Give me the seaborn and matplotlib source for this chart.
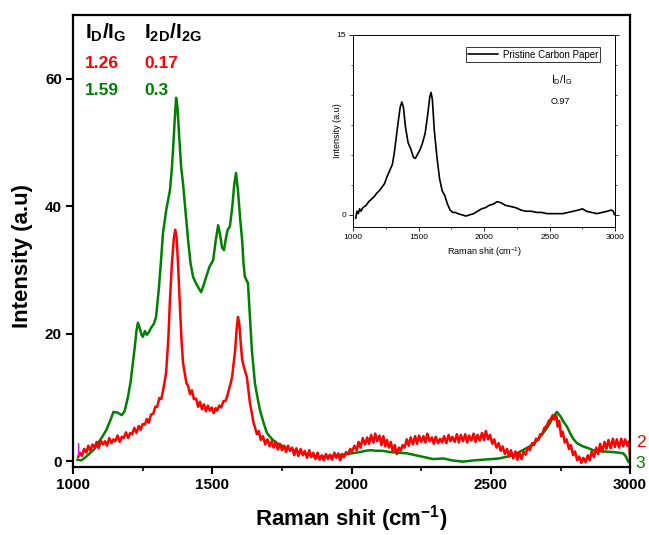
import matplotlib
matplotlib.use("Agg")
import matplotlib.pyplot as plt
import seaborn as sns
import pandas as pd
from matplotlib.ticker import MultipleLocator

# ---------------- data ----------------
green_x = [1015, 1030, 1045, 1060, 1075, 1090, 1105, 1120, 1135, 1145, 1160, 1175, 1185, 1197, 1207, 1215,
           1222, 1228, 1233, 1240, 1246, 1251, 1258, 1265, 1272, 1280, 1290, 1298, 1308, 1316, 1323, 1335,
           1348, 1355, 1360, 1365, 1370, 1375, 1381, 1388, 1395, 1403, 1413, 1422, 1431, 1440, 1450, 1460,
           1468, 1478, 1490, 1503, 1512, 1521, 1528, 1535, 1542, 1549, 1555, 1563, 1572, 1579, 1585, 1592,
           1600, 1607, 1612, 1617, 1628, 1635, 1642, 1653, 1662, 1671, 1684, 1696, 1715, 1732, 1760, 1790,
           1815, 1845, 1876, 1910, 1940, 1970, 2000, 2031, 2050, 2066, 2090, 2110, 2138, 2170, 2199, 2230,
           2260, 2293, 2330, 2360, 2400, 2440, 2470, 2497, 2530, 2560, 2580, 2610, 2640, 2660, 2677, 2695,
           2710, 2725, 2737, 2750, 2760, 2773, 2785, 2797, 2809, 2830, 2850, 2867, 2900, 2939, 2960, 2975,
           2985, 2993, 3000]
green_y = [0.2, 0.1, 0.6, 1.2, 1.8, 2.8, 3.8, 4.9, 6.5, 7.7, 7.6, 7.2, 7.8, 10.0, 12.5, 15.4,
           18.0, 20.5, 21.7, 20.8, 19.8, 19.5, 20.4, 19.8, 20.2, 20.9, 21.5, 22.6, 27.0, 31.5, 35.8, 39.5,
           42.5, 46.0, 49.5, 53.5, 57.0, 55.5, 51.0, 46.2, 43.5, 39.5, 34.7, 31.0, 28.9, 28.0, 27.2, 26.5,
           27.5, 28.9, 30.5, 31.5, 34.5, 37.0, 35.5, 33.5, 33.1, 35.0, 36.3, 36.8, 40.0, 43.5, 45.2, 42.5,
           38.0, 34.7, 31.0, 28.9, 27.9, 22.5, 17.4, 12.2, 10.0, 8.0, 6.0, 4.4, 3.4, 2.8, 2.2, 1.7,
           1.3, 1.0, 0.6, 0.7, 0.8, 1.0, 1.2, 1.4, 1.6, 1.7, 1.6, 1.6, 1.4, 1.3, 1.2, 0.9,
           0.6, 0.3, 0.4, 0.1, -0.1, 0.1, 0.2, 0.3, 0.4, 0.7, 0.9, 1.6, 2.3, 3.0, 3.8, 4.8,
           5.8, 7.0, 7.7, 7.0, 6.2, 5.4, 4.3, 3.4, 2.8, 2.3, 2.0, 1.7, 1.5, 1.4, 1.3, 1.2,
           0.7, -0.1, -0.3]

red_x = [1018, 1025, 1032, 1040, 1048, 1055, 1062, 1070, 1078, 1085, 1092, 1100, 1108, 1115, 1122, 1130,
         1138, 1145, 1152, 1160, 1168, 1175, 1182, 1190, 1198, 1205, 1212, 1220, 1228, 1236, 1243, 1250,
         1258, 1265, 1272, 1280, 1288, 1295, 1302, 1310, 1317, 1325, 1334, 1342, 1348, 1355, 1362, 1367,
         1372, 1378, 1385, 1390, 1395, 1402, 1407, 1413, 1420, 1427, 1434, 1442, 1449, 1456, 1463, 1470,
         1477, 1484, 1491, 1498, 1505, 1512, 1517, 1525, 1532, 1540, 1547, 1553, 1560, 1566, 1571, 1577,
         1582, 1587, 1592, 1597, 1602, 1607, 1615, 1624, 1630, 1635, 1642, 1648, 1653, 1660, 1667, 1674,
         1682, 1690, 1698, 1706, 1713, 1720, 1728, 1735, 1743, 1750, 1758, 1765, 1772, 1779, 1787, 1794,
         1802, 1809, 1817, 1825, 1832, 1840, 1848, 1855, 1862, 1870, 1878, 1885, 1893, 1900, 1908, 1915,
         1922, 1930, 1938, 1945, 1952, 1959, 1966, 1973, 1980, 1988, 1995, 2002, 2010, 2018, 2025, 2032,
         2040, 2048, 2056, 2063, 2070, 2078, 2085, 2092, 2100, 2107, 2114, 2121, 2127, 2134, 2141, 2148,
         2155, 2162, 2170, 2176, 2183, 2190, 2198, 2205, 2212, 2220, 2228, 2235, 2242, 2250, 2258, 2265,
         2272, 2280, 2288, 2295, 2302, 2310, 2318, 2325, 2332, 2340, 2348, 2355, 2362, 2370, 2378, 2385,
         2392, 2400, 2408, 2415, 2422, 2430, 2438, 2445, 2452, 2460, 2468, 2475, 2482, 2490, 2497, 2505,
         2512, 2520, 2528, 2535, 2542, 2550, 2558, 2565, 2572, 2580, 2588, 2595, 2602, 2610, 2617, 2625,
         2632, 2640, 2648, 2655, 2662, 2670, 2677, 2685, 2692, 2700, 2708, 2715, 2722, 2728, 2735, 2740,
         2745, 2752, 2758, 2765, 2772, 2780, 2787, 2795, 2802, 2810, 2817, 2825, 2832, 2840, 2848, 2855,
         2862, 2870, 2878, 2885, 2892, 2900, 2908, 2915, 2922, 2930, 2938, 2945, 2952, 2960, 2968, 2975,
         2982, 2990, 2996, 3000]
red_y = [0.6, 1.3, 0.8, 1.9, 1.3, 2.4, 1.6, 2.6, 2.1, 3.0, 2.0, 3.2, 2.6, 3.1, 2.4, 3.6,
         2.8, 3.4, 3.1, 4.0, 3.0, 3.8, 3.6, 4.5, 3.6, 4.4, 4.2, 5.2, 4.4, 5.5, 4.9, 5.8,
         5.7, 6.6, 6.0, 7.3, 7.4, 8.5, 8.5, 9.9, 9.7, 11.5, 13.8, 19.0, 25.3, 31.0, 35.0, 36.3,
         35.0, 30.0, 23.0, 18.5, 15.4, 13.5, 12.2, 11.8, 10.5, 11.1, 9.7, 9.8, 8.5, 9.3, 8.1, 8.9,
         7.8, 8.7, 7.9, 8.4, 7.5, 8.3, 7.9, 8.7, 8.4, 9.4, 9.4, 10.1, 11.3, 12.2, 13.2, 15.5,
         17.4, 20.5, 22.6, 21.5, 18.5, 15.9, 14.5, 13.2, 11.0, 9.1, 7.5, 6.0, 5.3, 4.2, 4.7, 3.3,
         3.9, 2.6, 3.4, 2.3, 3.1, 2.1, 3.0, 1.8, 2.7, 1.7, 2.4, 1.4, 2.4, 1.6, 2.1, 0.9,
         2.0, 0.8, 1.9, 0.9, 1.6, 0.5, 1.7, 0.6, 1.3, 0.3, 1.3, 0.2, 0.9, 0.1, 1.1, 0.3,
         1.0, 0.2, 1.3, 0.5, 1.2, 0.1, 1.1, 0.6, 1.4, 1.1, 1.9, 1.5, 2.4, 1.7, 3.0, 2.1,
         3.6, 2.6, 3.7, 2.7, 4.1, 2.9, 4.3, 3.1, 4.0, 2.5, 3.9, 2.3, 3.3, 2.1, 3.0, 1.5,
         2.5, 1.1, 2.1, 1.6, 2.5, 2.1, 3.4, 2.4, 3.7, 2.6, 3.9, 2.7, 4.0, 3.0, 3.9, 2.9,
         4.3, 3.1, 3.7, 2.7, 3.8, 2.8, 3.5, 2.9, 3.9, 2.8, 4.1, 3.1, 3.8, 3.0, 4.2, 2.9,
         4.1, 3.1, 4.2, 2.9, 4.0, 3.2, 4.3, 3.0, 4.1, 3.2, 4.4, 3.3, 4.7, 3.4, 4.1, 2.7,
         3.4, 2.1, 2.8, 1.6, 2.3, 1.1, 1.9, 0.7, 1.7, 0.4, 1.5, 0.2, 1.3, 0.3, 1.5, 1.0,
         2.1, 1.7, 2.8, 2.5, 3.5, 3.3, 4.2, 4.3, 5.2, 5.5, 6.3, 6.6, 7.2, 6.5, 7.1, 5.4,
         6.3, 3.9, 4.6, 2.9, 3.4, 1.9, 2.5, 0.9, 1.5, 0.1, 0.7, -0.3, 0.5, -0.2, 0.9, 0.1,
         1.5, 0.6, 2.1, 1.1, 2.7, 1.5, 3.0, 1.9, 3.3, 2.0, 3.5, 2.2, 3.4, 2.1, 3.5, 2.3,
         3.4, 2.4, 3.1, 0.0]

magenta_x = [1018, 1018]
magenta_y = [0.9, 2.8]

inset_x = [1020, 1030, 1040, 1050, 1060, 1075, 1090, 1100, 1120, 1140, 1160, 1180, 1200, 1220, 1240, 1260,
           1280, 1300, 1315, 1330, 1345, 1360, 1372, 1385, 1400, 1420, 1440, 1460, 1475, 1490, 1510, 1530,
           1550, 1570, 1585, 1595, 1605, 1620, 1640, 1660, 1680, 1700, 1720, 1740, 1760, 1780, 1800, 1830,
           1860, 1890, 1920, 1950, 1980, 2010, 2040, 2070, 2100, 2130, 2160, 2200, 2240, 2280, 2320, 2360,
           2400, 2440, 2480, 2520, 2560, 2600, 2640, 2680, 2720, 2750, 2780, 2820, 2860, 2900, 2940, 2970,
           2985, 2995]
inset_y = [-0.3, 0.3, 0.1, 0.5, 0.3, 0.6, 0.7, 0.8, 1.1, 1.3, 1.5, 1.8, 2.0, 2.3, 2.6, 3.2,
           3.7, 4.2, 5.2, 6.5, 7.8, 9.0, 9.4, 8.9, 7.3, 6.0, 5.5, 4.8, 4.7, 5.0, 5.4, 6.0,
           6.8, 8.4, 9.8, 10.2, 9.6, 7.0, 4.8, 3.0, 2.0, 1.6, 0.9, 0.4, 0.2, 0.2, 0.1, 0.0,
           -0.1, 0.0, 0.1, 0.3, 0.5, 0.6, 0.8, 0.9, 1.1, 1.0, 0.8, 0.7, 0.6, 0.4, 0.3, 0.3,
           0.2, 0.2, 0.1, 0.1, 0.1, 0.1, 0.2, 0.3, 0.4, 0.5, 0.3, 0.2, 0.1, 0.2, 0.3, 0.4,
           0.3, 0.0]

ratio_header = [r"$\mathbf{I_D/I_G}$", r"$\mathbf{I_{2D}/I_{2G}}$"]
ratio_red = ["1.26", "0.17"]
ratio_green = ["1.59", "0.3"]
x_ticks = [1000, 1500, 2000, 2500, 3000]
y_ticks = [0, 20, 40, 60]

# ---------------- style ----------------
sns.set_theme(style="ticks")
plt.rcParams["font.family"] = ["Liberation Sans", "DejaVu Sans"]
plt.rcParams["mathtext.fontset"] = "custom"
plt.rcParams["mathtext.rm"] = "Liberation Sans"
plt.rcParams["mathtext.it"] = "Liberation Sans:italic"
plt.rcParams["mathtext.bf"] = "Liberation Sans:bold"
for key in ["axes.edgecolor", "axes.labelcolor", "text.color", "xtick.color", "ytick.color"]:
    plt.rcParams[key] = "black"

RED = "#ff0000"
GREEN = "#008000"

fig = plt.figure(figsize=(6.49, 5.35), dpi=100)
ax = fig.add_axes([0.1125, 0.127, 0.8585, 0.845])

sns.lineplot(x=green_x, y=green_y, ax=ax, color=GREEN, lw=1.8, sort=False, estimator=None)
sns.lineplot(x=red_x, y=red_y, ax=ax, color=RED, lw=1.8, sort=False, estimator=None)
sns.lineplot(x=magenta_x, y=magenta_y, ax=ax, color="#ff00ff", lw=1.0, sort=False, estimator=None)

ax.set_xlim(1000, 3000)
ax.set_ylim(-0.95, 70)
ax.set_xticks(x_ticks)
ax.set_yticks(y_ticks)
ax.xaxis.set_minor_locator(MultipleLocator(250))
ax.tick_params(axis="both", which="major", direction="out", length=5, width=1.5, labelsize=11, pad=3)
ax.tick_params(axis="both", which="minor", direction="out", length=3, width=1.2)
for lab in ax.get_xticklabels() + ax.get_yticklabels():
    lab.set_fontweight("bold")
for sp in ax.spines.values():
    sp.set_linewidth(1.6)
    sp.set_visible(True)
ax.set_xlabel(r"Raman shit (cm$^{\mathbf{-1}}$)", fontsize=16, fontweight="bold", labelpad=8)
ax.set_ylabel("Intensity (a.u)", fontsize=16, fontweight="bold")
ax.yaxis.set_label_coords(-0.072, 0.467)

# ratio table
ax.text(0.022, 0.986, ratio_header[0], transform=ax.transAxes, fontsize=15, va="top", ha="left")
ax.text(0.128, 0.986, ratio_header[1], transform=ax.transAxes, fontsize=15, va="top", ha="left")
ax.text(0.022, 0.909, ratio_red[0], transform=ax.transAxes, fontsize=12.5, fontweight="bold", color=RED, va="top")
ax.text(0.128, 0.909, ratio_red[1], transform=ax.transAxes, fontsize=12.5, fontweight="bold", color=RED, va="top")
ax.text(0.022, 0.849, ratio_green[0], transform=ax.transAxes, fontsize=12.5, fontweight="bold", color=GREEN, va="top")
ax.text(0.128, 0.849, ratio_green[1], transform=ax.transAxes, fontsize=12.5, fontweight="bold", color=GREEN, va="top")

# end labels
ax.text(1.01, 0.055, "2", transform=ax.transAxes, fontsize=12.5, color=RED, va="center", ha="left")
ax.text(1.01, 0.007, "3", transform=ax.transAxes, fontsize=12.5, color=GREEN, va="center", ha="left")

# ---------------- inset ----------------
ins = fig.add_axes([0.544, 0.576, 0.404, 0.359])
sns.lineplot(x=inset_x, y=inset_y, ax=ins, color="black", lw=1.2, sort=False, estimator=None,
             label="Pristine Carbon Paper")
ins.set_xlim(1000, 3000)
ins.set_ylim(-1, 15)
ins.set_xticks([1000, 1500, 2000, 2500, 3000])
ins.set_yticks([0, 15])
ins.xaxis.set_minor_locator(MultipleLocator(250))
ins.yaxis.set_minor_locator(MultipleLocator(2.5))
ins.tick_params(axis="both", which="major", direction="out", length=3, width=0.6, labelsize=6, pad=2)
ins.tick_params(axis="both", which="minor", direction="out", length=1.5, width=0.5)
ins.tick_params(axis="y", which="both", right=True)
for sp in ins.spines.values():
    sp.set_linewidth(0.7)
    sp.set_visible(True)
ins.set_xlabel(r"Raman shit (cm$^{-1}$)", fontsize=6.5, labelpad=3)
ins.set_ylabel("Intensity (a.u)", fontsize=6.5, labelpad=-4)
leg = ins.legend(loc="upper right", bbox_to_anchor=(0.943, 0.935), fontsize=7, frameon=True,
                 fancybox=False, handlelength=3.0, borderpad=0.25, borderaxespad=0.0, handletextpad=0.5)
leg.get_frame().set_edgecolor("black")
leg.get_frame().set_linewidth(0.7)
ins.text(0.755, 0.765, r"$\mathrm{I_D/I_G}$", transform=ins.transAxes, fontsize=7.5, va="center")
ins.text(0.755, 0.65, "O.97", transform=ins.transAxes, fontsize=6.5, va="center")

fig.savefig("out.png", dpi=100)
